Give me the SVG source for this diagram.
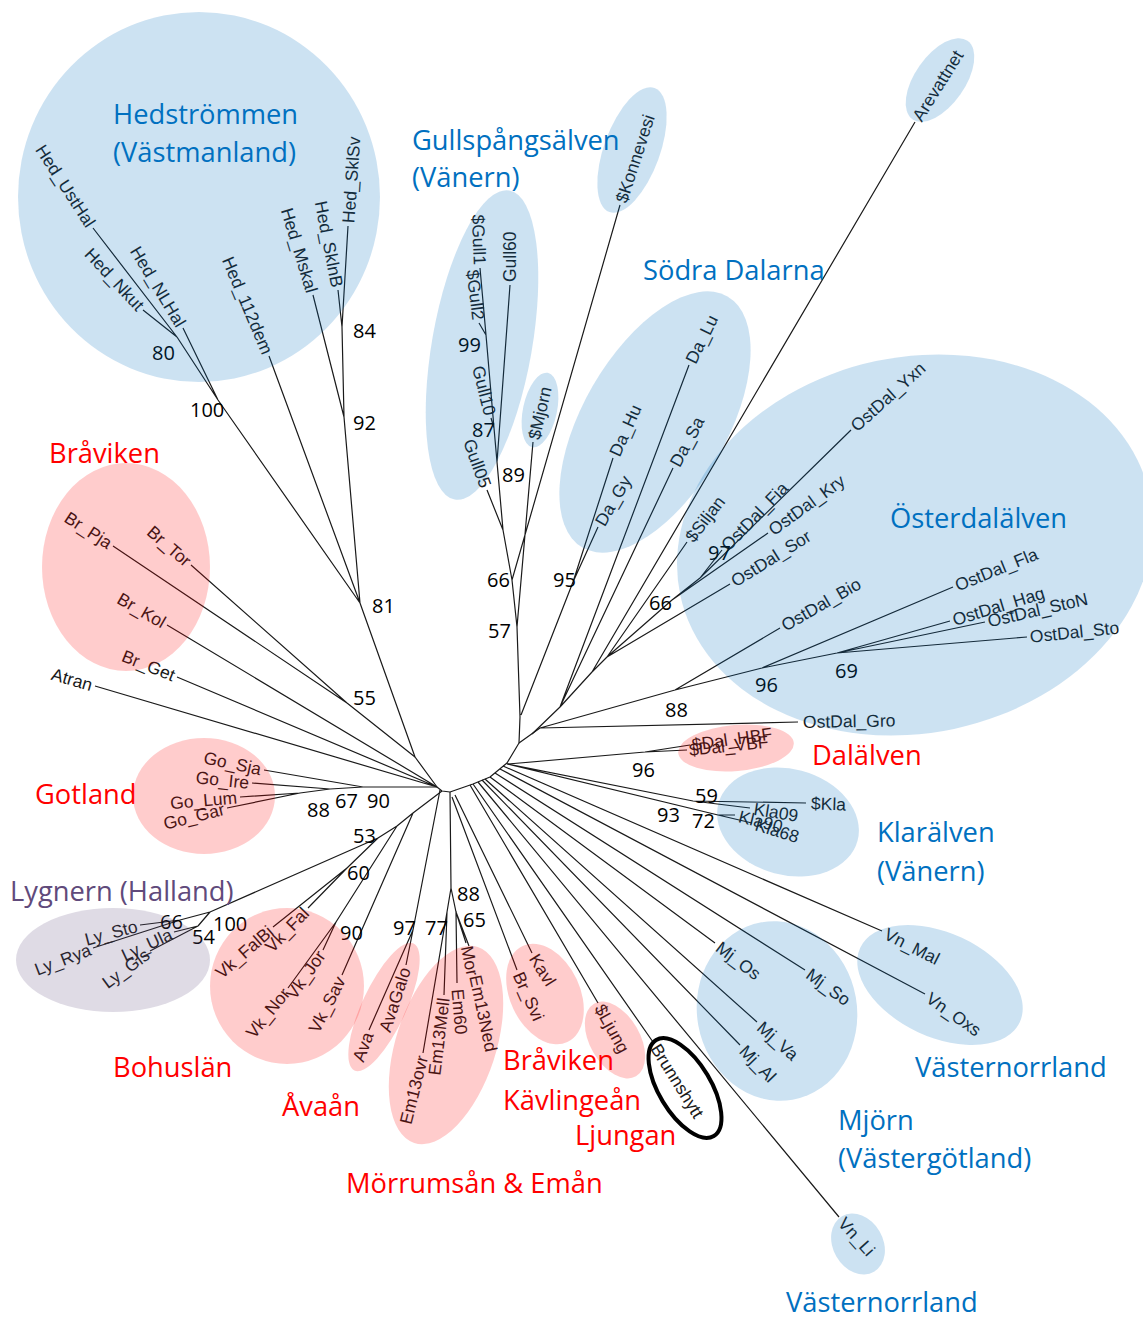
<svg xmlns="http://www.w3.org/2000/svg" width="1143" height="1318" viewBox="0 0 1143 1318">
<style>
.br{stroke:#1a1a1a;stroke-width:1.2;fill:none;stroke-linejoin:round}
.lf{font-family:"Liberation Sans",Arial,sans-serif;font-size:17.5px;fill:#1a1a1a}
.e{text-anchor:end}
.bs{font-family:"Open Sans",sans-serif;font-size:20px;fill:#000}
.tt{font-family:"Open Sans",sans-serif;font-size:27.3px}
.blue{fill:#0070C0}.red{fill:#FF0000}.pur{fill:#604A7B}
.sb{fill:#0070C0;fill-opacity:0.2}.sr{fill:#FF0000;fill-opacity:0.2}.sp{fill:#604A7B;fill-opacity:0.2}
</style>
<rect width="1143" height="1318" fill="#fff"/>
<g id="connectors" class="br">
<path d="M437,787 L442,791 L450,792 L473,784 L490,777 L507,763 L519,743 L520,717"/>
<path d="M93,228 L177,337 M143,310 L177,337 M177,337 L218,400 M183,328 L218,400 M218,400 L360,603 M269,356 L360,603 M348,226 L342,327 M338,290 L342,327 M342,327 L344,417 M313,295 L344,417 M344,417 L360,603 M360,603 L415,757 L437,787"/>
<path d="M113,546 L347,703 M191,565 L347,703 M347,703 L415,757 M167,625 L437,787 M177,677 L437,787 M95,686 L437,787"/>
<path d="M264,770 L363,787 M252,783 L330,789 M240,797 L300,793 M227,808 L300,793 M300,793 L330,789 L363,787 L437,787"/>
<path d="M442,791 L413,813 L397,826 L378,838 M413,813 L342,975 M397,826 L336,922 M336,922 L288,988 M336,922 L323,950 M378,838 L347,868 M347,868 L273,927 M347,868 L308,908 M378,838 L210,912 M210,912 L180,920 M180,920 L140,925 M180,920 L93,948 M210,912 L198,926 M198,926 L174,932 M198,926 L150,951"/>
<path d="M440,790 L413,930 M413,930 L406,965 M413,930 L369,1030"/>
<path d="M450,792 L451,888 M451,888 L447,912 M447,912 L423,1053 M447,912 L444,995 M451,888 L456,912 M456,912 L457,983 M456,912 L466,943 M456,912 L469,946"/>
<path d="M455,795 L532,953 M452,797 L517,970"/>
<path d="M470,785 L598,1003 M473,784 L653,1042 M478,782 L839,1217 M482,780 L740,1045 M485,779 L757,1022 M490,777 L715,943 M495,773 L805,970 M500,769 L925,994 M503,766 L882,931"/>
<path d="M507,764 L693,801 M693,801 L806,803 M693,801 L750,808 M507,764 L718,815 M718,815 L735,815 M718,815 L752,823"/>
<path d="M508,764 L645,752 M645,752 L690,745 M645,752 L687,750"/>
<path d="M519,743 L540,728 M540,728 L798,722 M540,728 L675,690 M675,690 L780,628 M675,690 L762,668 M762,668 L953,587 M762,668 L837,653 M837,653 L950,621 M837,653 L985,622 M837,653 L1027,637"/>
<path d="M532,734 L560,707 M560,707 L689,365 M560,707 L673,468 M560,707 L592,672 M592,672 L915,122 M592,672 L607,657 M607,657 L687,542 M607,657 L730,584 M607,657 L672,600 M672,600 L768,533 M672,600 L700,578 M700,578 L722,550 M700,578 L851,430"/>
<path d="M520,717 L517,627 L512,580 L503,530 L497,462 L494,428 L486,335 L480,268 M486,335 L479,323 M494,428 L491,418 M497,462 L510,285 M503,530 L487,490 M512,580 L620,205 M517,627 L533,442 M521,715 L573,582 M573,582 L613,458 M573,582 L598,527"/>
</g>
<g id="leaves">
<g id="n-Hed_UstHal"><text class="lf e" transform="translate(93,228) rotate(57)" x="-3" dy="0.35em">Hed_UstHal</text></g>
<g id="n-Hed_Nkut"><text class="lf e" transform="translate(143,310) rotate(47)" x="-3" dy="0.35em">Hed_Nkut</text></g>
<g id="n-Hed_NLHal"><text class="lf e" transform="translate(183,328) rotate(59)" x="-3" dy="0.35em">Hed_NLHal</text></g>
<g id="n-Hed_112dem"><text class="lf e" transform="translate(269,356) rotate(67)" x="-3" dy="0.35em">Hed_112dem</text></g>
<g id="n-Hed_Mskal"><text class="lf e" transform="translate(313,295) rotate(73)" x="-3" dy="0.35em">Hed_Mskal</text></g>
<g id="n-Hed_SklnB"><text class="lf e" transform="translate(338,290) rotate(79)" x="-3" dy="0.35em">Hed_SklnB</text></g>
<g id="n-Hed_SklSv"><text class="lf" transform="translate(348,226) rotate(-86)" x="3" dy="0.35em">Hed_SklSv</text></g>
<g id="n-Gull1"><text class="lf e" transform="translate(480,268) rotate(88)" x="-3" dy="0.35em">$Gull1</text></g>
<g id="n-Gull2"><text class="lf e" transform="translate(479,323) rotate(83)" x="-3" dy="0.35em">$Gull2</text></g>
<g id="n-Gull60"><text class="lf" transform="translate(510,285) rotate(-90)" x="3" dy="0.35em">Gull60</text></g>
<g id="n-Gull10"><text class="lf e" transform="translate(491,418) rotate(76)" x="-3" dy="0.35em">Gull10</text></g>
<g id="n-Gull05"><text class="lf e" transform="translate(487,490) rotate(70)" x="-3" dy="0.35em">Gull05</text></g>
<g id="n-Mjorn"><text class="lf" transform="translate(533,442) rotate(-77)" x="3" dy="0.35em">$Mjorn</text></g>
<g id="n-Konnevesi"><text class="lf" transform="translate(620,205) rotate(-72)" x="3" dy="0.35em">$Konnevesi</text></g>
<g id="n-Arevattnet"><text class="lf" transform="translate(915,122) rotate(-58)" x="3" dy="0.35em">Arevattnet</text></g>
<g id="n-Da_Lu"><text class="lf" transform="translate(689,365) rotate(-64)" x="3" dy="0.35em">Da_Lu</text></g>
<g id="n-Da_Hu"><text class="lf" transform="translate(613,458) rotate(-66)" x="3" dy="0.35em">Da_Hu</text></g>
<g id="n-Da_Gy"><text class="lf" transform="translate(598,527) rotate(-60)" x="3" dy="0.35em">Da_Gy</text></g>
<g id="n-Da_Sa"><text class="lf" transform="translate(673,468) rotate(-62)" x="3" dy="0.35em">Da_Sa</text></g>
<g id="n-Siljan"><text class="lf" transform="translate(687,542) rotate(-52)" x="3" dy="0.35em">$Siljan</text></g>
<g id="n-OstDal_Fia"><text class="lf" transform="translate(722,550) rotate(-46)" x="3" dy="0.35em">OstDal_Fia</text></g>
<g id="n-OstDal_Kry"><text class="lf" transform="translate(768,533) rotate(-36)" x="3" dy="0.35em">OstDal_Kry</text></g>
<g id="n-OstDal_Yxn"><text class="lf" transform="translate(851,430) rotate(-42)" x="3" dy="0.35em">OstDal_Yxn</text></g>
<g id="n-OstDal_Sor"><text class="lf" transform="translate(730,584) rotate(-32)" x="3" dy="0.35em">OstDal_Sor</text></g>
<g id="n-OstDal_Bio"><text class="lf" transform="translate(780,628) rotate(-30)" x="3" dy="0.35em">OstDal_Bio</text></g>
<g id="n-OstDal_Fla"><text class="lf" transform="translate(953,587) rotate(-22)" x="3" dy="0.35em">OstDal_Fla</text></g>
<g id="n-OstDal_Hag"><text class="lf" transform="translate(950,621) rotate(-17)" x="3" dy="0.35em">OstDal_Hag</text></g>
<g id="n-OstDal_StoN"><text class="lf" transform="translate(985,622) rotate(-13)" x="3" dy="0.35em">OstDal_StoN</text></g>
<g id="n-OstDal_Sto"><text class="lf" transform="translate(1027,637) rotate(-6)" x="3" dy="0.35em">OstDal_Sto</text></g>
<g id="n-OstDal_Gro"><text class="lf" transform="translate(798,722) rotate(-1)" x="5" dy="0.35em">OstDal_Gro</text></g>
<g id="n-Dal_HBF"><text class="lf" transform="translate(690,745) rotate(-8)" x="2" dy="0.35em">$Dal_HBF</text></g>
<g id="n-Dal_VBF"><text class="lf" transform="translate(687,750) rotate(-6)" x="2" dy="0.35em">$Dal_VBF</text></g>
<g id="n-Kla"><text class="lf" transform="translate(806,803) rotate(2)" x="5" dy="0.35em">$Kla</text></g>
<g id="n-Kla09"><text class="lf" transform="translate(750,808) rotate(9)" x="4" dy="0.35em">Kla09</text></g>
<g id="n-Kla90"><text class="lf" transform="translate(735,815) rotate(14)" x="4" dy="0.35em">Kla90</text></g>
<g id="n-Kla68"><text class="lf" transform="translate(752,823) rotate(17)" x="4" dy="0.35em">Kla68</text></g>
<g id="n-Vn_Mal"><text class="lf" transform="translate(882,931) rotate(27)" x="4" dy="0.35em">Vn_Mal</text></g>
<g id="n-Vn_Oxs"><text class="lf" transform="translate(925,994) rotate(35)" x="4" dy="0.35em">Vn_Oxs</text></g>
<g id="n-Mj_So"><text class="lf" transform="translate(805,970) rotate(36)" x="4" dy="0.35em">Mj_So</text></g>
<g id="n-Mj_Os"><text class="lf" transform="translate(715,943) rotate(37)" x="4" dy="0.35em">Mj_Os</text></g>
<g id="n-Mj_Va"><text class="lf" transform="translate(757,1022) rotate(42)" x="4" dy="0.35em">Mj_Va</text></g>
<g id="n-Mj_Al"><text class="lf" transform="translate(740,1045) rotate(46)" x="4" dy="0.35em">Mj_Al</text></g>
<g id="n-Vn_Li"><text class="lf" transform="translate(839,1217) rotate(48)" x="4" dy="0.35em">Vn_Li</text></g>
<g id="n-Brunnshytt"><text class="lf" transform="translate(653,1042) rotate(58)" x="4" dy="0.35em">Brunnshytt</text></g>
<g id="n-Ljung"><text class="lf" transform="translate(598,1003) rotate(61)" x="3" dy="0.35em">$Ljung</text></g>
<g id="n-Kavl"><text class="lf" transform="translate(532,953) rotate(58)" x="3" dy="0.35em">Kavl</text></g>
<g id="n-Br_Svi"><text class="lf" transform="translate(517,970) rotate(66)" x="3" dy="0.35em">Br_Svi</text></g>
<g id="n-Mor"><text class="lf" transform="translate(466,943) rotate(78)" x="3" dy="0.35em">Mor</text></g>
<g id="n-Em13Ned"><text class="lf" transform="translate(469,946) rotate(78)" x="30" dy="0.35em">Em13Ned</text></g>
<g id="n-Em60"><text class="lf" transform="translate(457,983) rotate(85)" x="6" dy="0.35em">Em60</text></g>
<g id="n-Em13Mell"><text class="lf e" transform="translate(444,995) rotate(-83)" x="-3" dy="0.35em">Em13Mell</text></g>
<g id="n-Em13ovr"><text class="lf e" transform="translate(423,1053) rotate(-76)" x="-3" dy="0.35em">Em13ovr</text></g>
<g id="n-AvaGalo"><text class="lf e" transform="translate(406,965) rotate(-72)" x="-3" dy="0.35em">AvaGalo</text></g>
<g id="n-Ava"><text class="lf e" transform="translate(369,1030) rotate(-70)" x="-3" dy="0.35em">Ava</text></g>
<g id="n-Vk_FalBi"><text class="lf e" transform="translate(273,927) rotate(-41)" x="-3" dy="0.35em">Vk_FalBi</text></g>
<g id="n-Vk_Fal"><text class="lf e" transform="translate(308,908) rotate(-46)" x="-3" dy="0.35em">Vk_Fal</text></g>
<g id="n-Vk_Nor"><text class="lf e" transform="translate(288,988) rotate(-51)" x="-3" dy="0.35em">Vk_Nor</text></g>
<g id="n-Vk_Jor"><text class="lf e" transform="translate(323,950) rotate(-55)" x="-3" dy="0.35em">Vk_Jor</text></g>
<g id="n-Vk_Sav"><text class="lf e" transform="translate(342,975) rotate(-63)" x="-3" dy="0.35em">Vk_Sav</text></g>
<g id="n-Ly_Sto"><text class="lf e" transform="translate(140,925) rotate(-15)" x="-3" dy="0.35em">Ly_Sto</text></g>
<g id="n-Ly_Rya"><text class="lf e" transform="translate(93,948) rotate(-21)" x="-3" dy="0.35em">Ly_Rya</text></g>
<g id="n-Ly_Ula"><text class="lf e" transform="translate(174,932) rotate(-25)" x="-3" dy="0.35em">Ly_Ula</text></g>
<g id="n-Ly_Gls"><text class="lf e" transform="translate(150,951) rotate(-36)" x="-3" dy="0.35em">Ly_Gls</text></g>
<g id="n-Go_Sja"><text class="lf e" transform="translate(264,770) rotate(12)" x="-3" dy="0.35em">Go_Sja</text></g>
<g id="n-Go_Ire"><text class="lf e" transform="translate(252,783) rotate(6)" x="-3" dy="0.35em">Go_Ire</text></g>
<g id="n-Go_Lum"><text class="lf e" transform="translate(240,797) rotate(-5)" x="-3" dy="0.35em">Go_Lum</text></g>
<g id="n-Go_Gar"><text class="lf e" transform="translate(227,808) rotate(-14)" x="-3" dy="0.35em">Go_Gar</text></g>
<g id="n-Br_Pja"><text class="lf e" transform="translate(113,546) rotate(33)" x="-3" dy="0.35em">Br_Pja</text></g>
<g id="n-Br_Tor"><text class="lf e" transform="translate(191,565) rotate(41)" x="-3" dy="0.35em">Br_Tor</text></g>
<g id="n-Br_Kol"><text class="lf e" transform="translate(167,625) rotate(30)" x="-3" dy="0.35em">Br_Kol</text></g>
<g id="n-Br_Get"><text class="lf e" transform="translate(177,677) rotate(22)" x="-3" dy="0.35em">Br_Get</text></g>
<g id="n-Atran"><text class="lf e" transform="translate(95,686) rotate(16)" x="-3" dy="0.35em">Atran</text></g>
</g>
<g id="support" class="bs">
<text x="152" y="360">80</text><text x="190" y="417">100</text><text x="353" y="338">84</text><text x="353" y="430">92</text>
<text x="372" y="613">81</text><text x="353" y="705">55</text><text x="307" y="817">88</text><text x="335" y="808">67</text><text x="367" y="808">90</text>
<text x="353" y="843">53</text><text x="347" y="880">60</text><text x="160" y="929">66</text><text x="213" y="931">100</text><text x="192" y="944">54</text>
<text x="340" y="940">90</text><text x="393" y="935">97</text><text x="425" y="935">77</text><text x="457" y="901">88</text><text x="463" y="927">65</text>
<text x="458" y="352">99</text><text x="472" y="437">87</text><text x="502" y="482">89</text><text x="487" y="587">66</text><text x="488" y="638">57</text>
<text x="553" y="587">95</text><text x="649" y="610">66</text><text x="708" y="560">97</text><text x="665" y="717">88</text><text x="755" y="692">96</text>
<text x="835" y="678">69</text><text x="632" y="777">96</text><text x="695" y="803">59</text><text x="657" y="822">93</text><text x="692" y="828">72</text>
</g>
<g id="clusters">
<g id="c-hed"><ellipse class="sb" cx="199" cy="197" rx="181" ry="185"/></g>
<g id="c-gull"><ellipse class="sb" transform="translate(482,345) rotate(10)" rx="50" ry="157"/></g>
<g id="c-mjorn1"><ellipse class="sb" transform="translate(540,410) rotate(12)" rx="17" ry="38"/></g>
<g id="c-konn"><ellipse class="sb" transform="translate(632,150) rotate(20)" rx="28" ry="66"/></g>
<g id="c-sodra"><ellipse class="sb" transform="translate(655,422) rotate(30)" rx="72" ry="145"/></g>
<g id="c-are"><ellipse class="sb" transform="translate(940,80) rotate(35)" rx="25" ry="48"/></g>
<g id="c-oster"><ellipse class="sb" transform="translate(915,545) rotate(-12)" rx="240" ry="188"/></g>
<g id="c-dal"><ellipse class="sr" transform="translate(736,748) rotate(-5)" rx="58" ry="23"/></g>
<g id="c-kla"><ellipse class="sb" transform="translate(788,822) rotate(15)" rx="72" ry="53"/></g>
<g id="c-brav"><ellipse class="sr" cx="126" cy="567" rx="84" ry="104"/></g>
<g id="c-got"><ellipse class="sr" cx="204" cy="796" rx="71" ry="58"/></g>
<g id="c-lyg"><ellipse class="sp" cx="113" cy="960" rx="97" ry="52"/></g>
<g id="c-boh"><ellipse class="sr" cx="287" cy="986" rx="77" ry="78"/></g>
<g id="c-ava"><ellipse class="sr" transform="translate(384,1007) rotate(25)" rx="22" ry="70"/></g>
<g id="c-mor"><ellipse class="sr" transform="translate(446,1045) rotate(18)" rx="50" ry="103"/></g>
<g id="c-kavl"><ellipse class="sr" transform="translate(545,994) rotate(-25)" rx="35" ry="53"/></g>
<g id="c-ljung"><ellipse class="sr" transform="translate(615,1040) rotate(-30)" rx="25" ry="42"/></g>
<g id="c-mj"><ellipse class="sb" transform="translate(777,1011) rotate(-10)" rx="80" ry="90"/></g>
<g id="c-vn"><ellipse class="sb" transform="translate(940,985) rotate(25)" rx="88" ry="52"/></g>
<g id="c-vnli"><ellipse class="sb" transform="translate(858,1244) rotate(-30)" rx="25" ry="32"/></g>
<g id="c-brunn"><ellipse transform="translate(685,1088) rotate(-31)" rx="26" ry="56" fill="none" stroke="#000" stroke-width="4"/></g>
</g>
<g id="titles" class="tt">
<text class="blue" x="113" y="124">Hedströmmen</text>
<text class="blue" x="113" y="162">(Västmanland)</text>
<text class="blue" x="412" y="150">Gullspångsälven</text>
<text class="blue" x="412" y="187">(Vänern)</text>
<text class="blue" x="643" y="280">Södra Dalarna</text>
<text class="blue" x="890" y="528">Österdalälven</text>
<text class="red" x="49" y="463">Bråviken</text>
<text class="red" x="35" y="804">Gotland</text>
<text class="red" x="812" y="765">Dalälven</text>
<text class="blue" x="877" y="842">Klarälven</text>
<text class="blue" x="877" y="881">(Vänern)</text>
<text class="pur" x="10" y="901">Lygnern (Halland)</text>
<text class="red" x="113" y="1077">Bohuslän</text>
<text class="red" x="282" y="1116">Åvaån</text>
<text class="red" x="503" y="1070">Bråviken</text>
<text class="red" x="503" y="1110">Kävlingeån</text>
<text class="red" x="575" y="1145">Ljungan</text>
<text class="red" x="346" y="1193">Mörrumsån &amp; Emån</text>
<text class="blue" x="915" y="1077">Västernorrland</text>
<text class="blue" x="838" y="1130">Mjörn</text>
<text class="blue" x="838" y="1168">(Västergötland)</text>
<text class="blue" x="786" y="1312">Västernorrland</text>
</g>
</svg>
